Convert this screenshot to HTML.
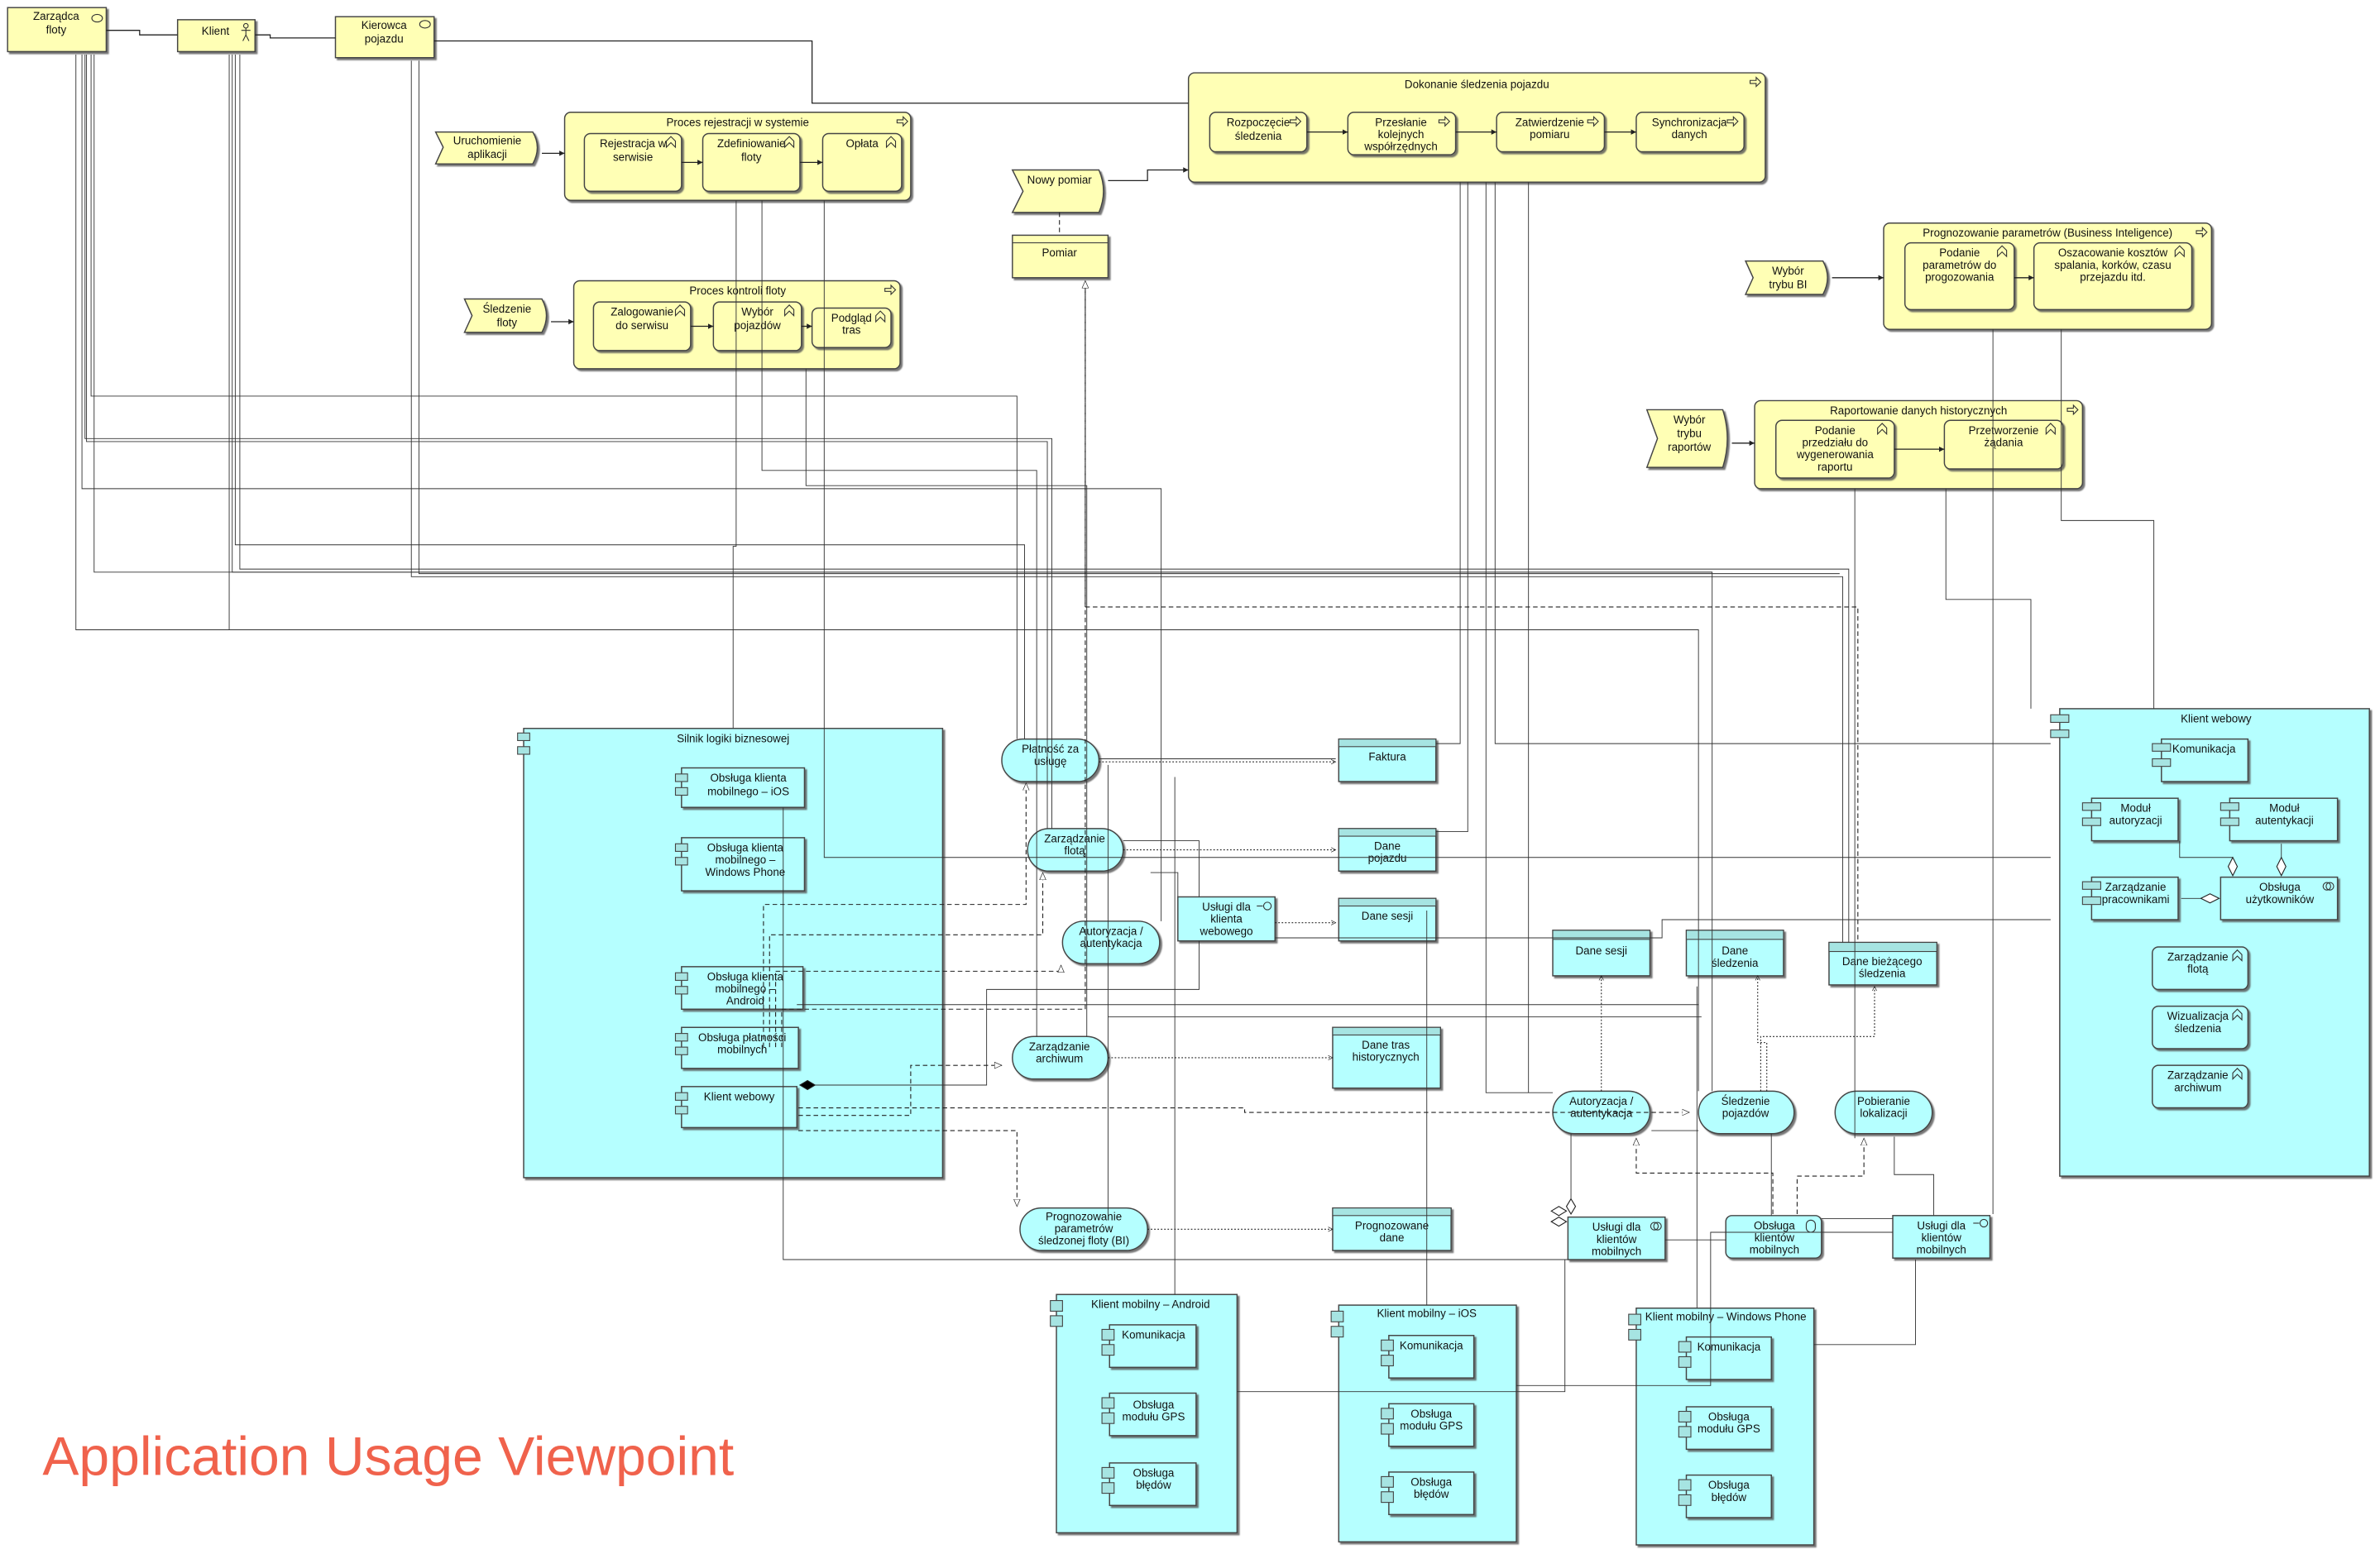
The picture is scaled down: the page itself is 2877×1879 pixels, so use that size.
<!DOCTYPE html>
<html><head><meta charset="utf-8">
<style>
html,body{margin:0;padding:0;background:#fff;}
svg{display:block;}
text{font-family:"Liberation Sans",sans-serif;font-size:7.3px;fill:#111;text-anchor:middle;}
.y{fill:#ffffb5;stroke:#444;stroke-width:0.8;filter:url(#sh);}
.c{fill:#b5ffff;stroke:#444;stroke-width:0.8;filter:url(#sh);}
.ci{fill:#a6e4e2;stroke:#444;stroke-width:0.6;}
.l{fill:none;stroke:#222;stroke-width:0.7;}
.t{fill:none;stroke:#333;stroke-width:0.5;}
.d{fill:none;stroke:#222;stroke-width:0.6;stroke-dasharray:3,2;}
.o{fill:none;stroke:#222;stroke-width:0.6;stroke-dasharray:1,1.2;}
.ic{fill:none;stroke:#333;stroke-width:0.6;}
</style></head><body>
<svg width="2877" height="1879" viewBox="0 0 1568 1024" preserveAspectRatio="none" xmlns="http://www.w3.org/2000/svg">
<defs>
<filter id="sh" x="-5%" y="-5%" width="115%" height="115%"><feDropShadow dx="1.3" dy="1.3" stdDeviation="0.4" flood-color="#555" flood-opacity="0.8"/></filter>
<marker id="ar" markerWidth="6" markerHeight="6" refX="5" refY="3" orient="auto"><path d="M0,0.5 L5,3 L0,5.5 z" fill="#222"/></marker>
<marker id="oa" markerWidth="6" markerHeight="6" refX="5" refY="3" orient="auto"><path d="M0,0.5 L5,3 L0,5.5" fill="none" stroke="#222" stroke-width="0.6"/></marker>
<marker id="tri" markerWidth="10" markerHeight="10" refX="8" refY="4" orient="auto"><path d="M0,0.5 L8,4 L0,7.5 z" fill="#fff" stroke="#222" stroke-width="0.6"/></marker>
</defs>

<!-- ===== Yellow business layer ===== -->
<rect class="y" x="5" y="5" width="65" height="29"/><text x="37" y="13">Zarządca</text><text x="37" y="22">floty</text>
<ellipse class="ic" cx="64" cy="12" rx="3.5" ry="2.5"/>
<rect class="y" x="117" y="13" width="51" height="21"/><text x="142" y="23">Klient</text>
<g class="ic"><circle cx="162" cy="17" r="1.5"/><path d="M162,18.5V23M159,20H165M162,23L160,27M162,23L164,27"/></g>
<rect class="y" x="221" y="11" width="65" height="27"/><text x="253" y="19">Kierowca</text><text x="253" y="28">pojazdu</text>
<ellipse class="ic" cx="280" cy="16" rx="3.5" ry="2.5"/>

<path class="y" d="M287,87 H351 Q357,97 351,108 H287 L292,97 z"/><text x="321" y="95">Uruchomienie</text><text x="321" y="104">aplikacji</text>
<path class="y" d="M306,197 H357 Q363,208 357,219 H306 L311,208 z"/><text x="334" y="206">Śledzenie</text><text x="334" y="215">floty</text>
<path class="y" d="M667,112 H724 Q730,126 724,140 H667 L674,126 z"/><text x="698" y="121">Nowy pomiar</text>
<path class="y" d="M1150,172 H1201 Q1207,183 1201,194 H1150 L1155,183 z"/><text x="1178" y="181">Wybór</text><text x="1178" y="190">trybu BI</text>
<path class="y" d="M1085,270 H1135 Q1141,289 1135,308 H1085 L1092,289 z"/><text x="1113" y="279">Wybór</text><text x="1113" y="288">trybu</text><text x="1113" y="297">raportów</text>

<rect class="y" x="372" y="74" width="228" height="58" rx="4"/><text x="486" y="83">Proces rejestracji w systemie</text>
<rect class="y" x="385" y="88" width="64" height="38" rx="4"/><text x="417" y="97">Rejestracja w</text><text x="417" y="106">serwisie</text>
<rect class="y" x="463" y="88" width="64" height="38" rx="4"/><text x="495" y="97">Zdefiniowanie</text><text x="495" y="106">floty</text>
<rect class="y" x="542" y="88" width="52" height="38" rx="4"/><text x="568" y="97">Opłata</text>

<rect class="y" x="378" y="185" width="215" height="58" rx="4"/><text x="486" y="194">Proces kontroli floty</text>
<rect class="y" x="391" y="199" width="64" height="32" rx="4"/><text x="423" y="208">Zalogowanie</text><text x="423" y="217">do serwisu</text>
<rect class="y" x="470" y="199" width="58" height="32" rx="4"/><text x="499" y="208">Wybór</text><text x="499" y="217">pojazdów</text>
<rect class="y" x="535" y="203" width="52" height="26" rx="4"/><text x="561" y="212">Podgląd</text><text x="561" y="220">tras</text>

<rect class="y" x="783" y="48" width="380" height="72" rx="4"/><text x="973" y="58">Dokonanie śledzenia pojazdu</text>
<rect class="y" x="797" y="74" width="64" height="26" rx="4"/><text x="829" y="83">Rozpoczęcie</text><text x="829" y="92">śledzenia</text>
<rect class="y" x="888" y="74" width="71" height="28" rx="4"/><text x="923" y="83">Przesłanie</text><text x="923" y="91">kolejnych</text><text x="923" y="99">współrzędnych</text>
<rect class="y" x="986" y="74" width="71" height="26" rx="4"/><text x="1021" y="83">Zatwierdzenie</text><text x="1021" y="91">pomiaru</text>
<rect class="y" x="1078" y="74" width="71" height="26" rx="4"/><text x="1113" y="83">Synchronizacja</text><text x="1113" y="91">danych</text>

<rect class="y" x="667" y="155" width="63" height="28"/><line x1="667" y1="160" x2="730" y2="160" stroke="#444" stroke-width="0.6"/><text x="698" y="169">Pomiar</text>

<rect class="y" x="1241" y="147" width="216" height="70" rx="4"/><text x="1349" y="156">Prognozowanie parametrów (Business Inteligence)</text>
<rect class="y" x="1255" y="160" width="72" height="44" rx="4"/><text x="1291" y="169">Podanie</text><text x="1291" y="177">parametrów do</text><text x="1291" y="185">progozowania</text>
<rect class="y" x="1340" y="160" width="104" height="44" rx="4"/><text x="1392" y="169">Oszacowanie kosztów</text><text x="1392" y="177">spalania, korków, czasu</text><text x="1392" y="185">przejazdu itd.</text>

<rect class="y" x="1156" y="264" width="216" height="58" rx="4"/><text x="1264" y="273">Raportowanie danych historycznych</text>
<rect class="y" x="1170" y="277" width="78" height="38" rx="4"/><text x="1209" y="286">Podanie</text><text x="1209" y="294">przedziału do</text><text x="1209" y="302">wygenerowania</text><text x="1209" y="310">raportu</text>
<rect class="y" x="1281" y="277" width="78" height="32" rx="4"/><text x="1320" y="286">Przetworzenie</text><text x="1320" y="294">żądania</text>

<g class="ic">
<path d="M591,79h4v-2l3,3l-3,3v-2h-4z"/><path d="M583,190h4v-2l3,3l-3,3v-2h-4z"/><path d="M1153,53h4v-2l3,3l-3,3v-2h-4z"/>
<path d="M1447,152h4v-2l3,3l-3,3v-2h-4z"/><path d="M1362,269h4v-2l3,3l-3,3v-2h-4z"/>
<path d="M850,79h4v-2l3,3l-3,3v-2h-4z"/><path d="M948,79h4v-2l3,3l-3,3v-2h-4z"/><path d="M1046,79h4v-2l3,3l-3,3v-2h-4z"/><path d="M1138,79h4v-2l3,3l-3,3v-2h-4z"/>
<path d="M439,97v-4l3,-3l3,3v4l-3,-3z"/><path d="M517,97v-4l3,-3l3,3v4l-3,-3z"/><path d="M584,97v-4l3,-3l3,3v4l-3,-3z"/>
<path d="M445,208v-4l3,-3l3,3v4l-3,-3z"/><path d="M517,208v-4l3,-3l3,3v4l-3,-3z"/><path d="M577,212v-4l3,-3l3,3v4l-3,-3z"/>
<path d="M1316,169v-4l3,-3l3,3v4l-3,-3z"/><path d="M1433,169v-4l3,-3l3,3v4l-3,-3z"/>
<path d="M1237,286v-4l3,-3l3,3v4l-3,-3z"/><path d="M1348,286v-4l3,-3l3,3v4l-3,-3z"/>
</g>

<!-- ===== Cyan application layer ===== -->
<rect class="c" x="345" y="480" width="276" height="296"/><text x="483" y="489">Silnik logiki biznesowej</text>
<rect class="ci" x="341" y="483" width="8" height="5"/><rect class="ci" x="341" y="492" width="8" height="5"/>
<g>
<rect class="c" x="449" y="506" width="81" height="26"/><rect class="ci" x="445" y="510" width="8" height="5"/><rect class="ci" x="445" y="519" width="8" height="5"/><text x="493" y="515">Obsługa klienta</text><text x="493" y="524">mobilnego – iOS</text>
<rect class="c" x="449" y="552" width="81" height="35"/><rect class="ci" x="445" y="556" width="8" height="5"/><rect class="ci" x="445" y="565" width="8" height="5"/><text x="491" y="561">Obsługa klienta</text><text x="491" y="569">mobilnego –</text><text x="491" y="577">Windows Phone</text>
<rect class="c" x="449" y="637" width="80" height="28"/><rect class="ci" x="445" y="641" width="8" height="5"/><rect class="ci" x="445" y="650" width="8" height="5"/><text x="491" y="646">Obsługa klienta</text><text x="491" y="654">mobilnego –</text><text x="491" y="662">Android</text>
<rect class="c" x="449" y="677" width="77" height="27"/><rect class="ci" x="445" y="681" width="8" height="5"/><rect class="ci" x="445" y="690" width="8" height="5"/><text x="489" y="686">Obsługa płatności</text><text x="489" y="694">mobilnych</text>
<rect class="c" x="449" y="716" width="76" height="27"/><rect class="ci" x="445" y="720" width="8" height="5"/><rect class="ci" x="445" y="729" width="8" height="5"/><text x="487" y="725">Klient webowy</text>
</g>

<rect class="c" x="660" y="487" width="64" height="28" rx="14"/><text x="692" y="496">Płatność za</text><text x="692" y="504">usługę</text>
<rect class="c" x="677" y="546" width="63" height="28" rx="14"/><text x="708" y="555">Zarządzanie</text><text x="708" y="563">flotą</text>
<rect class="c" x="700" y="607" width="64" height="28" rx="14"/><text x="732" y="616">Autoryzacja /</text><text x="732" y="624">autentykacja</text>
<rect class="c" x="667" y="683" width="63" height="28" rx="14"/><text x="698" y="692">Zarządzanie</text><text x="698" y="700">archiwum</text>
<rect class="c" x="672" y="796" width="84" height="28" rx="14"/><text x="714" y="804">Prognozowanie</text><text x="714" y="812">parametrów</text><text x="714" y="820">śledzonej floty (BI)</text>

<g>
<rect class="c" x="882" y="487" width="64" height="28"/><rect class="ci" x="882" y="487" width="64" height="5"/><text x="914" y="501">Faktura</text>
<rect class="c" x="882" y="546" width="64" height="28"/><rect class="ci" x="882" y="546" width="64" height="5"/><text x="914" y="560">Dane</text><text x="914" y="568">pojazdu</text>
<rect class="c" x="882" y="592" width="64" height="28"/><rect class="ci" x="882" y="592" width="64" height="5"/><text x="914" y="606">Dane sesji</text>
<rect class="c" x="878" y="677" width="71" height="40"/><rect class="ci" x="878" y="677" width="71" height="5"/><text x="913" y="691">Dane tras</text><text x="913" y="699">historycznych</text>
<rect class="c" x="878" y="796" width="78" height="28"/><rect class="ci" x="878" y="796" width="78" height="5"/><text x="917" y="810">Prognozowane</text><text x="917" y="818">dane</text>
<rect class="c" x="1023" y="613" width="64" height="30"/><rect class="ci" x="1023" y="613" width="64" height="6"/><text x="1055" y="629">Dane sesji</text>
<rect class="c" x="1111" y="613" width="64" height="30"/><rect class="ci" x="1111" y="613" width="64" height="6"/><text x="1143" y="629">Dane</text><text x="1143" y="637">śledzenia</text>
<rect class="c" x="1205" y="621" width="71" height="28"/><rect class="ci" x="1205" y="621" width="71" height="6"/><text x="1240" y="636">Dane bieżącego</text><text x="1240" y="644">śledzenia</text>
</g>

<rect class="c" x="776" y="591" width="64" height="29"/><text x="808" y="600">Usługi dla</text><text x="808" y="608">klienta</text><text x="808" y="616">webowego</text>
<g class="ic"><circle cx="835" cy="597" r="2.5"/><line x1="828" y1="597" x2="832" y2="597"/></g>

<rect class="c" x="1023" y="719" width="64" height="28" rx="14"/><text x="1055" y="728">Autoryzacja /</text><text x="1055" y="736">autentykacja</text>
<rect class="c" x="1119" y="719" width="63" height="28" rx="14"/><text x="1150" y="728">Śledzenie</text><text x="1150" y="736">pojazdów</text>
<rect class="c" x="1209" y="719" width="64" height="28" rx="14"/><text x="1241" y="728">Pobieranie</text><text x="1241" y="736">lokalizacji</text>

<rect class="c" x="1033" y="802" width="64" height="28"/><text x="1065" y="811">Usługi dla</text><text x="1065" y="819">klientów</text><text x="1065" y="827">mobilnych</text>
<g class="ic"><circle cx="1090" cy="808" r="2.5"/><circle cx="1092" cy="808" r="2.5"/></g>
<rect class="c" x="1137" y="801" width="63" height="28" rx="4"/><text x="1169" y="810">Obsługa</text><text x="1169" y="818">klientów</text><text x="1169" y="826">mobilnych</text>
<g class="ic"><rect x="1190" y="804" width="6" height="8" rx="3"/></g>
<rect class="c" x="1247" y="801" width="64" height="28"/><text x="1279" y="810">Usługi dla</text><text x="1279" y="818">klientów</text><text x="1279" y="826">mobilnych</text>
<g class="ic"><circle cx="1307" cy="806" r="2.5"/><line x1="1300" y1="806" x2="1304" y2="806"/></g>

<g>
<rect class="c" x="696" y="853" width="119" height="157"/><rect class="ci" x="692" y="857" width="8" height="7"/><rect class="ci" x="692" y="867" width="8" height="7"/><text x="758" y="862">Klient mobilny – Android</text>
<rect class="c" x="731" y="873" width="57" height="28"/><rect class="ci" x="726" y="876" width="8" height="7"/><rect class="ci" x="726" y="886" width="8" height="7"/><text x="760" y="882">Komunikacja</text>
<rect class="c" x="731" y="918" width="57" height="28"/><rect class="ci" x="726" y="921" width="8" height="7"/><rect class="ci" x="726" y="931" width="8" height="7"/><text x="760" y="928">Obsługa</text><text x="760" y="936">modułu GPS</text>
<rect class="c" x="731" y="964" width="57" height="28"/><rect class="ci" x="726" y="967" width="8" height="7"/><rect class="ci" x="726" y="977" width="8" height="7"/><text x="760" y="973">Obsługa</text><text x="760" y="981">błędów</text>

<rect class="c" x="882" y="860" width="117" height="156"/><rect class="ci" x="877" y="864" width="8" height="7"/><rect class="ci" x="877" y="874" width="8" height="7"/><text x="940" y="868">Klient mobilny – iOS</text>
<rect class="c" x="915" y="880" width="56" height="28"/><rect class="ci" x="910" y="883" width="8" height="7"/><rect class="ci" x="910" y="893" width="8" height="7"/><text x="943" y="889">Komunikacja</text>
<rect class="c" x="915" y="925" width="56" height="28"/><rect class="ci" x="910" y="928" width="8" height="7"/><rect class="ci" x="910" y="938" width="8" height="7"/><text x="943" y="934">Obsługa</text><text x="943" y="942">modułu GPS</text>
<rect class="c" x="915" y="970" width="56" height="28"/><rect class="ci" x="910" y="973" width="8" height="7"/><rect class="ci" x="910" y="983" width="8" height="7"/><text x="943" y="979">Obsługa</text><text x="943" y="987">błędów</text>

<rect class="c" x="1078" y="862" width="117" height="156"/><rect class="ci" x="1073" y="866" width="8" height="7"/><rect class="ci" x="1073" y="876" width="8" height="7"/><text x="1137" y="870">Klient mobilny – Windows Phone</text>
<rect class="c" x="1111" y="881" width="56" height="28"/><rect class="ci" x="1106" y="884" width="8" height="7"/><rect class="ci" x="1106" y="894" width="8" height="7"/><text x="1139" y="890">Komunikacja</text>
<rect class="c" x="1111" y="927" width="56" height="28"/><rect class="ci" x="1106" y="930" width="8" height="7"/><rect class="ci" x="1106" y="940" width="8" height="7"/><text x="1139" y="936">Obsługa</text><text x="1139" y="944">modułu GPS</text>
<rect class="c" x="1111" y="972" width="56" height="28"/><rect class="ci" x="1106" y="975" width="8" height="7"/><rect class="ci" x="1106" y="985" width="8" height="7"/><text x="1139" y="981">Obsługa</text><text x="1139" y="989">błędów</text>
</g>

<g>
<rect class="c" x="1357" y="467" width="204" height="308"/><rect class="ci" x="1351" y="471" width="12" height="5"/><rect class="ci" x="1351" y="481" width="12" height="5"/><text x="1460" y="476">Klient webowy</text>
<rect class="c" x="1424" y="487" width="57" height="28"/><rect class="ci" x="1418" y="490" width="12" height="5"/><rect class="ci" x="1418" y="500" width="12" height="5"/><text x="1452" y="496">Komunikacja</text>
<rect class="c" x="1378" y="526" width="57" height="28"/><rect class="ci" x="1372" y="529" width="12" height="5"/><rect class="ci" x="1372" y="539" width="12" height="5"/><text x="1407" y="535">Moduł</text><text x="1407" y="543">autoryzacji</text>
<rect class="c" x="1469" y="526" width="71" height="28"/><rect class="ci" x="1463" y="529" width="12" height="5"/><rect class="ci" x="1463" y="539" width="12" height="5"/><text x="1505" y="535">Moduł</text><text x="1505" y="543">autentykacji</text>
<rect class="c" x="1378" y="578" width="57" height="28"/><rect class="ci" x="1372" y="581" width="12" height="5"/><rect class="ci" x="1372" y="591" width="12" height="5"/><text x="1407" y="587">Zarządzanie</text><text x="1407" y="595">pracownikami</text>
<rect class="c" x="1463" y="578" width="77" height="28"/><text x="1502" y="587">Obsługa</text><text x="1502" y="595">użytkowników</text>
<g class="ic"><circle cx="1533" cy="584" r="2.5"/><circle cx="1535" cy="584" r="2.5"/></g>
<rect class="c" x="1418" y="624" width="63" height="28" rx="4"/><text x="1448" y="633">Zarządzanie</text><text x="1448" y="641">flotą</text>
<rect class="c" x="1418" y="663" width="63" height="28" rx="4"/><text x="1448" y="672">Wizualizacja</text><text x="1448" y="680">śledzenia</text>
<rect class="c" x="1418" y="702" width="63" height="28" rx="4"/><text x="1448" y="711">Zarządzanie</text><text x="1448" y="719">archiwum</text>
<g class="ic"><path d="M1471,633v-4l3,-3l3,3v4l-3,-3z"/><path d="M1471,672v-4l3,-3l3,3v4l-3,-3z"/><path d="M1471,711v-4l3,-3l3,3v4l-3,-3z"/></g>
</g>

<!-- ===== connectors (on top) ===== -->
<g class="l">
<path d="M70,20 H92 V23 H117"/>
<path d="M168,23 H178 V25 H221"/>
<path d="M286,27 H535 V68 H783"/>
<path d="M357,101 H372" marker-end="url(#ar)"/>
<path d="M363,212 H378" marker-end="url(#ar)"/>
<path d="M730,119 H756 V112 H783" marker-end="url(#ar)"/>
<path d="M1207,183 H1241" marker-end="url(#ar)"/>
<path d="M1141,292 H1156" marker-end="url(#ar)"/>
<path d="M449,107 H463" marker-end="url(#ar)"/><path d="M527,107 H542" marker-end="url(#ar)"/>
<path d="M455,215 H470" marker-end="url(#ar)"/><path d="M528,215 H535" marker-end="url(#ar)"/>
<path d="M861,87 H888" marker-end="url(#ar)"/><path d="M959,87 H986" marker-end="url(#ar)"/><path d="M1057,87 H1078" marker-end="url(#ar)"/>
<path d="M1327,183 H1340" marker-end="url(#ar)"/><path d="M1248,296 H1281" marker-end="url(#ar)"/>
</g>
<g class="t">
<path d="M50,36 V415 H1119 V719"/>
<path d="M54,36 V322 H765 V607"/>
<path d="M57,36 V291 H690 V546"/>
<path d="M60,36 V261 H670 V487"/>
<path d="M62,36 V377 H1128 V719"/>
<path d="M56,36 V289 H693 V546"/>
<path d="M151,36 V415 H1119"/>
<path d="M153,36 V377 H1128"/>
<path d="M155,36 V359 H675 V487"/>
<path d="M158,36 V375 H1218 V621"/>
<path d="M271,40 V380 H1214 V621"/>
<path d="M276,40 V378 H1212"/>
<path d="M485,132 V360 H483 V480"/>
<path d="M502,132 V310 H683 V683"/>
<path d="M543,132 V565 H1351"/>
<path d="M531,243 V320 H716 V683"/>
<path d="M962,120 V490 H946"/>
<path d="M967,120 V548 H946"/>
<path d="M979,120 V720 H1023"/>
<path d="M985,120 V490 H1351"/>
<path d="M1007,120 V720"/>
<path d="M1313,217 V800"/>
<path d="M1358,217 V343 H1419 V467"/>
<path d="M1222,322 V750"/>
<path d="M1282,322 V395 H1338 V467"/>
<path d="M724,500 H880"/>
<path d="M740,554 H790 V591"/>
<path d="M758,575 H776 V591"/>
<path d="M840,618 H1095 V606 H1351"/>
<path d="M790,620 V652 H650 V715 H530"/>
<path d="M730,504 V800"/>
<path d="M525,662 H1119"/>
<path d="M516,532 V830 H1033"/>
<path d="M730,670 H1121"/>
<path d="M774,512 V853"/>
<path d="M940,600 V860"/>
<path d="M1118,650 V862"/>
<path d="M815,917 H1031 V830"/>
<path d="M999,913 H1127 V812 H1247"/>
<path d="M1195,886 H1262 V830"/>
<path d="M1097,817 H1137"/>
<path d="M1200,803 H1247"/>
<path d="M1167,747 V801"/>
<path d="M1248,749 V774 H1274 V801"/>
<path d="M1088,745 H1119"/>
<path d="M1035,747 V790"/>
<path d="M1436,554 V565 H1471 V565"/>
<path d="M1503,556 V565"/>
<path d="M1437,592 H1450"/>
</g>
<g>
<path class="d" d="M715,185 V400 H1224 V621"/>
<path class="d" d="M698,140 V155"/>
<path class="d" d="M526,730 H820 V733 H1113" marker-end="url(#tri)"/>
<path class="d" d="M526,735 H600 V702 H660" marker-end="url(#tri)"/>
<path class="d" d="M526,745 H670 V795" marker-end="url(#tri)"/>
<path class="d" d="M503,690 V596 H676 V516" marker-end="url(#tri)"/>
<path class="d" d="M507,690 V616 H687 V575" marker-end="url(#tri)"/>
<path class="d" d="M511,690 V640 H699 V636" marker-end="url(#tri)"/>
<path class="d" d="M515,690 V665 H715 V185" marker-end="url(#tri)"/>
<path class="d" d="M1184,800 V775 H1228 V750" marker-end="url(#tri)"/>
<path class="d" d="M1168,800 V773 H1078 V750" marker-end="url(#tri)"/>
<path class="o" d="M724,502 H880" marker-end="url(#oa)"/>
<path class="o" d="M740,560 H880" marker-end="url(#oa)"/>
<path class="o" d="M840,608 H880" marker-end="url(#oa)"/>
<path class="o" d="M730,697 H878" marker-end="url(#oa)"/>
<path class="o" d="M756,810 H878" marker-end="url(#oa)"/>
<path class="o" d="M1055,719 V643" marker-end="url(#oa)"/>
<path class="o" d="M1160,719 V683 H1235 V650" marker-end="url(#oa)"/>
<path class="o" d="M1164,719 V687 H1158 V643" marker-end="url(#oa)"/>
</g>
<g fill="#fff" stroke="#222" stroke-width="0.6">
<path d="M1035,790 l3,5 l-3,5 l-3,-5z"/>
<path d="M1022,805 l5,-3 l5,3 l-5,3z"/><path d="M1022,798 l5,-3 l5,3 l-5,3z"/>
<path d="M1471,565 l3,6 l-3,6 l-3,-6z"/><path d="M1503,565 l3,6 l-3,6 l-3,-6z"/>
<path d="M1450,592 l6,-3 l6,3 l-6,3z"/>
<path d="M527,715 l5,-3 l5,3 l-5,3z" fill="#000"/>
</g>

<text x="28" y="972" style="font-size:36px;fill:#f0624c;text-anchor:start;">Application Usage Viewpoint</text>
</svg>
</body></html>
